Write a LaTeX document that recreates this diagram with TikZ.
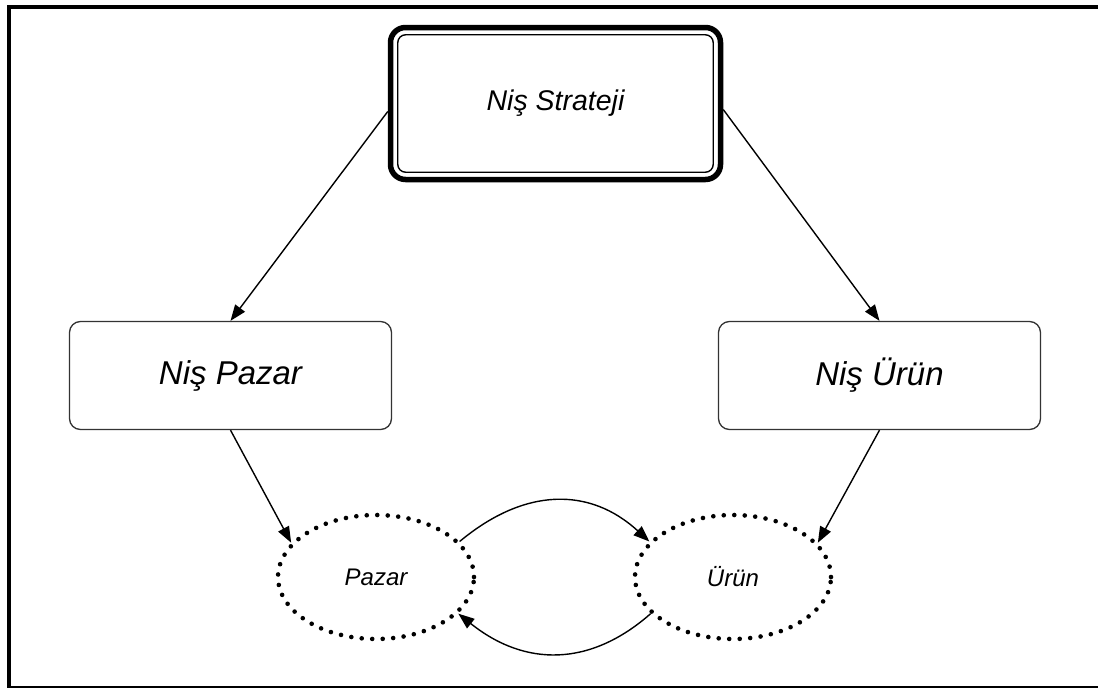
\documentclass[tikz,border=0pt]{standalone}
\usepackage{fontspec}
\setmainfont{Liberation Sans}
\usetikzlibrary{arrows.meta,shapes.geometric,calc}
\begin{document}
\begin{tikzpicture}[x=1pt,y=-1pt,
  box/.style={draw=black!80, line width=1.3pt, rounded corners=11pt,
    minimum width=322pt, minimum height=108pt, inner sep=0pt,
    font=\fontsize{33}{40}\selectfont\itshape},
  oval/.style={ellipse, draw, line width=4.6pt, dash pattern=on 0pt off 10.5pt,
    line cap=round, minimum width=196pt, minimum height=124pt, inner sep=0pt,
    font=\fontsize{24}{29}\selectfont\itshape},
  link/.style={line width=1.4pt, -{Triangle[length=16pt,width=12pt]}},
  frame/.style={line width=4pt}]
\useasboundingbox (0,0) rectangle (1098,688);
% outer frame, open on the right
\draw[frame] (1110,7) -- (9,7) -- (9,687.5) -- (1110,687.5);

% top box with a double border
\node[draw, line width=5.5pt, rounded corners=15pt, minimum width=330pt,
  minimum height=152pt, inner sep=0pt,
  font=\fontsize{28.5}{34}\selectfont\itshape] (S) at (555.5,103.5) {Niş Strateji};
\draw[line width=1.4pt, rounded corners=8pt]
  ([shift={(10,10)}]S.north west) rectangle ([shift={(-10,-10)}]S.south east);

% middle boxes
\node[box] (NP) at (230.5,375.5) {Niş Pazar};
\node[box] (NU) at (879.5,375.5) {Niş Ürün};

% dotted ovals
\node[oval] (P) at (376,577) {Pazar};
\node[oval] (U) at (733,577) {Ürün};

% connectors
\draw[link] ($(S.west)+(0,8)$) -- (NP.north);
\draw[link] ($(S.east)+(0,6)$) -- (NU.north);
\draw[link] (NP.south) -- (P.158);
\draw[link] (NU.south) -- (U.22);
\draw[link] (P.23) .. controls (525,487) and (590,487) .. (U.157);
\draw[link] (U.204) .. controls (590,667) and (525,667) .. (P.336);
\end{tikzpicture}
\end{document}
